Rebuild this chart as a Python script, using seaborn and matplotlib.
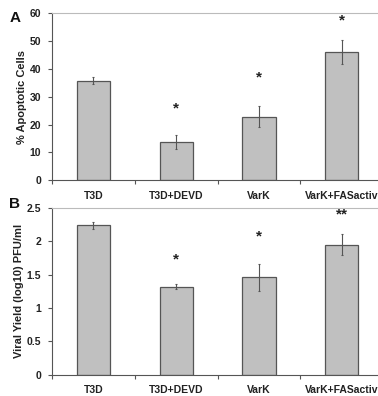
import matplotlib
matplotlib.use("Agg")
import matplotlib.pyplot as plt
import seaborn as sns
import pandas as pd

sns.set_style("ticks")
plt.rcParams["font.family"] = ["Liberation Sans", "DejaVu Sans"]
plt.rcParams["font.weight"] = "bold"

# data
groups = ["T3D", "T3D+DEVD", "VarK", "VarK+FASactiv"]
apoptotic = [35.8, 13.8, 22.9, 46.1]
apoptotic_err = [1.3, 2.4, 3.8, 4.2]
apoptotic_marks = ["", "*", "*", "*"]
apoptotic_mark_y = [0, 25.7, 36.8, 57.6]

viral_yield = [2.24, 1.32, 1.46, 1.95]
viral_err = [0.05, 0.04, 0.2, 0.16]
viral_marks = ["", "*", "*", "**"]
viral_mark_y = [0, 1.73, 2.07, 2.40]

fig = plt.figure(figsize=(3.78, 3.96), dpi=100)
ax_a = fig.add_axes([0.1376, 0.545, 0.876, 0.421])
ax_b = fig.add_axes([0.1376, 0.054, 0.876, 0.421])


def panel(ax, vals, errs, marks, mark_y, ylim, ticks, ticklabels, ylabel,
          letter, letter_y):
    df = pd.DataFrame({"group": groups, "value": vals})
    sns.barplot(data=df, x="group", y="value", color="#c0c0c0", width=0.4,
                edgecolor="#555555", linewidth=0.9, saturation=1, ax=ax)
    ax.errorbar(range(len(groups)), vals, yerr=errs, fmt="none",
                ecolor="#555555", elinewidth=0.8, capsize=1, capthick=0.8)
    for i, (m, y) in enumerate(zip(marks, mark_y)):
        if m:
            ax.text(i, y, m, ha="center", va="center", fontsize=11,
                    fontweight="bold", color="#222222")
    ax.set_xlim(-0.5, 3.5)
    ax.set_ylim(*ylim)
    ax.set_yticks(ticks)
    ax.set_yticklabels(ticklabels)
    ax.set_xticks([-0.5, 0.5, 1.5, 2.5, 3.5])
    ax.set_xticklabels([])
    for i, g in enumerate(groups):
        ax.text(i, -0.092, g, transform=ax.get_xaxis_transform(),
                ha="center", va="center", fontsize=7.5, fontweight="bold",
                color="#222222")
    ax.set_xlabel("")
    ax.set_ylabel(ylabel, fontsize=8, fontweight="bold", color="#222222",
                  labelpad=2)
    ax.tick_params(axis="both", direction="out", length=3, width=0.8,
                   color="#555555", labelsize=7.5, labelcolor="#222222", pad=5)
    ax.spines["left"].set_color("#555555")
    ax.spines["bottom"].set_color("#555555")
    ax.spines["top"].set_color("#bbbbbb")
    ax.spines["top"].set_visible(True)
    ax.spines["right"].set_visible(False)
    ax.text(-0.112, letter_y, letter, transform=ax.transAxes, fontsize=11,
            fontweight="bold", ha="center", va="center", color="#111111")


panel(ax_a, apoptotic, apoptotic_err, apoptotic_marks, apoptotic_mark_y,
      (0, 60), [0, 10, 20, 30, 40, 50, 60],
      ["0", "10", "20", "30", "40", "50", "60"], "% Apoptotic Cells", "A",
      0.973)
panel(ax_b, viral_yield, viral_err, viral_marks, viral_mark_y,
      (0, 2.5), [0, 0.5, 1, 1.5, 2, 2.5],
      ["0", "0.5", "1", "1.5", "2", "2.5"], "Viral Yield (log10) PFU/ml", "B",
      1.025)

fig.savefig("out.png", dpi=100)
